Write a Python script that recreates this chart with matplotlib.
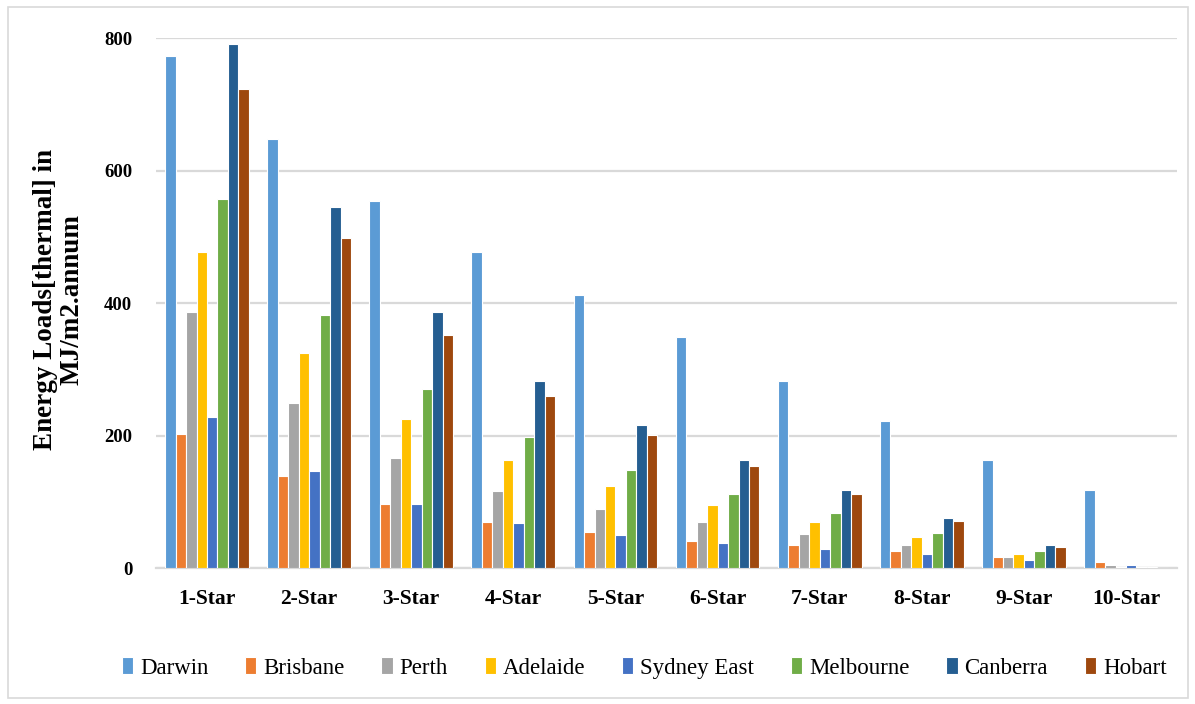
import matplotlib
matplotlib.use("Agg")
import matplotlib.pyplot as plt
from matplotlib.patches import Rectangle
import numpy as np

categories = ["1-Star", "2-Star", "3-Star", "4-Star", "5-Star",
              "6-Star", "7-Star", "8-Star", "9-Star", "10-Star"]

darwin    = [773, 648, 554, 478, 413, 349, 283, 222, 164, 119]
brisbane  = [203, 139, 97, 70, 55, 42, 35, 26, 18, 10]
perth     = [387, 250, 166, 117, 89, 70, 52, 35, 18, 4.5]
adelaide  = [478, 325, 226, 164, 124, 96, 70, 47, 22, 2.5]
sydney    = [229, 147, 98, 68, 50, 39, 30, 22, 13, 6]
melbourne = [558, 383, 271, 198, 149, 113, 84, 54, 26, 2.5]
canberra  = [792, 546, 387, 283, 216, 164, 119, 76, 35, 2.5]
hobart    = [723, 498, 353, 260, 201, 154, 113, 71, 32, 0]

series_names = ["Darwin", "Brisbane", "Perth", "Adelaide", "Sydney East",
                "Melbourne", "Canberra", "Hobart"]
series_values = [darwin, brisbane, perth, adelaide, sydney,
                 melbourne, canberra, hobart]
colors = ["#5B9BD5", "#ED7D31", "#A5A5A5", "#FFC000", "#4472C4",
          "#70AD47", "#255E91", "#9E480E"]

serif = ["Liberation Serif", "DejaVu Serif"]

fig = plt.figure(figsize=(11.95, 7.04), dpi=100)
fig.patch.set_facecolor("white")
fig.patches.append(Rectangle((0.007, 0.008), 0.987, 0.982, transform=fig.transFigure,
                             fill=False, edgecolor="#d9d9d9", linewidth=1.2))

ax = fig.add_axes([0.1305, 0.1925, 0.8545, 0.7531])

n = len(series_names)
x = np.arange(len(categories))
group_w = 0.82
bw = group_w / n
for i, (name, vals, c) in enumerate(zip(series_names, series_values, colors)):
    offs = -group_w / 2 + bw * (i + 0.5)
    ax.bar(x + offs, vals, width=bw, color=c, edgecolor="white",
           linewidth=0.8, label=name, zorder=3)

ax.set_xlim(-0.5, len(categories) - 0.5)
ax.set_ylim(0, 800)
ax.set_yticks([0, 200, 400, 600, 800])
ax.grid(axis="y", color="#d9d9d9", linewidth=1.6, zorder=0)
ax.set_axisbelow(True)
for s in ["top", "right", "left"]:
    ax.spines[s].set_visible(False)
ax.spines["bottom"].set_color("#d9d9d9")
ax.spines["bottom"].set_linewidth(1.6)
ax.tick_params(axis="both", length=0)
ax.tick_params(axis="y", pad=17)
ax.tick_params(axis="x", pad=15)

ax.set_xticks(x)
ax.set_xticklabels(categories, fontfamily=serif, fontweight="bold", fontsize=15.5)
for lbl in ax.get_yticklabels():
    lbl.set_fontfamily(serif)
    lbl.set_fontweight("bold")
    lbl.set_fontsize(13.5)

fig.text(0.049, 0.575, "Energy Loads[thermal] in\nMJ/m2.annum", rotation=90,
         ha="center", va="center", fontfamily=serif, fontweight="bold",
         fontsize=19.5, linespacing=1.05)

leg = fig.legend(loc="center", bbox_to_anchor=(0.539, 0.051), ncol=8,
                 frameon=False, prop={"family": serif, "size": 16.5},
                 handlelength=0.5, handleheight=0.75, handletextpad=0.3,
                 columnspacing=1.6)

fig.savefig("out.png", dpi=100)
